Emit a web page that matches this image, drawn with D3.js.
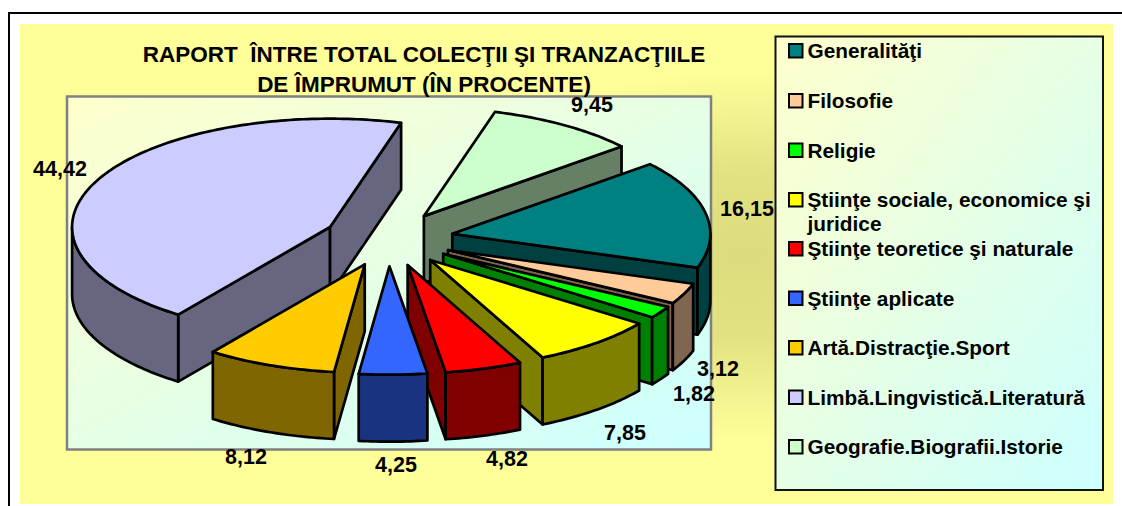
<!DOCTYPE html>
<html>
<head>
<meta charset="utf-8">
<script src="https://cdn.jsdelivr.net/npm/d3@7/dist/d3.min.js"></script>
<style>
html,body{margin:0;padding:0;background:#fff;overflow:hidden}
svg{display:block}
text{font-family:"Liberation Sans",Arial,sans-serif;font-weight:bold;fill:#000}
</style>
</head>
<body>
<svg id="c" width="1122" height="506"></svg>
<script>
const titleLines = ["RAPORT  ÎNTRE TOTAL COLECŢII ŞI TRANZACŢIILE", "DE ÎMPRUMUT (ÎN PROCENTE)"];
const categories = ["Generalităţi","Filosofie","Religie","Ştiinţe sociale, economice şi juridice","Ştiinţe teoretice şi naturale","Ştiinţe aplicate","Artă.Distracţie.Sport","Limbă.Lingvistică.Literatură","Geografie.Biografii.Istorie"];
const legendLines = [["Generalităţi"],["Filosofie"],["Religie"],["Ştiinţe sociale, economice şi","juridice"],["Ştiinţe teoretice şi naturale"],["Ştiinţe aplicate"],["Artă.Distracţie.Sport"],["Limbă.Lingvistică.Literatură"],["Geografie.Biografii.Istorie"]];
const values = [16.15,3.12,1.82,7.85,4.82,4.25,8.12,44.42,9.45];
const valueLabels = ["16,15","3,12","1,82","7,85","4,82","4,25","8,12","44,42","9,45"];
const topColors = ["#008080","#FFCC99","#00FF00","#FFFF00","#FF0000","#3366FF","#FFCC00","#CCCCFF","#CCFFCC"];
const wallColors = ["#004040","#806650","#008000","#808000","#800000","#1A3380","#806600","#666680","#668066"];
// label centre points, relative to the pie centre (layout only)
const labelOffsets = [[358.5,-31],[329.5,129],[305.5,154],[236.5,193],[118.5,219],[7.5,225],[-142.5,217],[-328.5,-71],[203.5,-135]];

const svg = d3.select("#c");
const cx = 388.5, cy = 239, R = 258, tilt = 0.42, depth = 67, explode = 65;
const deg = Math.PI/180;

const defs = svg.append("defs");
const diag = defs.append("linearGradient").attr("id","diag").attr("x1",0).attr("y1",0).attr("x2",1).attr("y2",1);
diag.append("stop").attr("offset",0).attr("stop-color","#FFFFCC");
diag.append("stop").attr("offset",1).attr("stop-color","#CCFFFF");
const glow = defs.append("radialGradient").attr("id","glow").attr("gradientUnits","userSpaceOnUse")
  .attr("cx",0).attr("cy",0).attr("r",1).attr("gradientTransform","translate(745,255) scale(340,185)");
glow.append("stop").attr("offset",0).attr("stop-color","#DCDC7E");
glow.append("stop").attr("offset",0.45).attr("stop-color","#E2E282");
glow.append("stop").attr("offset",1).attr("stop-color","#FFFF99");

// frame + backgrounds
svg.append("path").attr("d","M9 506V13H1122").attr("fill","none").attr("stroke","#000").attr("stroke-width",2);
svg.append("rect").attr("x",20).attr("y",24).attr("width",1093).attr("height",480).attr("fill","url(#glow)");
svg.append("rect").attr("x",67).attr("y",96.5).attr("width",644).attr("height",353).attr("fill","url(#diag)").attr("stroke","#808080").attr("stroke-width",2.5);

// title
svg.append("g").selectAll("text").data(titleLines).join("text")
  .attr("x",424).attr("y",(d,i)=>i?92:62).attr("text-anchor","middle").attr("font-size",22.5).style("white-space","pre").text(d=>d);

// pie
const pie = d3.pie().sort(null).value(d=>d).startAngle(50*deg).endAngle((50+360)*deg);
const arcs = pie(values).map((a,i)=>{
  const mid=(a.startAngle+a.endAngle)/2;
  return {i,a0:a.startAngle,a1:a.endAngle,ox:cx+explode*Math.sin(mid),oy:cy-explode*tilt*Math.cos(mid)};
});
const pt=(s,t,dz=0)=>[s.ox+R*Math.sin(t), s.oy-R*tilt*Math.cos(t)+dz];
const line=d3.line();
const sample=(a,b)=>{const n=Math.max(2,Math.ceil((b-a)/(1*deg)));return d3.range(n+1).map(k=>a+(b-a)*k/n);};
const gPie=svg.append("g").attr("stroke","#000").attr("stroke-width",2.7).attr("stroke-linejoin","round");
arcs.slice().sort((p,q)=>p.oy-q.oy).forEach(s=>{
  const g=gPie.append("g"), wall=wallColors[s.i];
  const radial=t=>{
    const corners=[[s.ox,s.oy],pt(s,t),pt(s,t,depth),[s.ox,s.oy+depth]];
    g.append("path").attr("d",line(corners)+"Z").attr("fill",wall);
  };
  if(Math.cos(s.a0-Math.PI/2)<0) radial(s.a0);
  if(Math.cos(s.a1+Math.PI/2)<0) radial(s.a1);
  const lo=Math.max(s.a0,90*deg), hi=Math.min(s.a1,270*deg);
  if(hi>lo){
    const ts=sample(lo,hi);
    const pts=ts.map(t=>pt(s,t)).concat(ts.slice().reverse().map(t=>pt(s,t,depth)));
    g.append("path").attr("d",line(pts)+"Z").attr("fill",wall);
  }
  const top=[[s.ox,s.oy]].concat(sample(s.a0,s.a1).map(t=>pt(s,t)));
  g.append("path").attr("d",line(top)+"Z").attr("fill",topColors[s.i]);
});

// value labels
svg.append("g").selectAll("text").data(valueLabels).join("text")
  .attr("x",(d,i)=>cx+labelOffsets[i][0]).attr("y",(d,i)=>cy+labelOffsets[i][1]+7.5)
  .attr("text-anchor","middle").attr("font-size",21.5).text(d=>d);

// legend
svg.append("rect").attr("x",775.5).attr("y",36.5).attr("width",327.5).attr("height",453.5).attr("fill","url(#diag)").attr("stroke","#111").attr("stroke-width",2);
const legendRowBase = [58,108,157.5,207,256,305.5,355,404.5,454];
const lg=svg.append("g").selectAll("g").data(categories).join("g");
lg.append("rect").attr("x",789).attr("y",(d,i)=>legendRowBase[i]-14).attr("width",13.5).attr("height",13.5)
  .attr("fill",(d,i)=>topColors[i]).attr("stroke","#000").attr("stroke-width",2);
lg.selectAll("text").data((d,i)=>legendLines[i].map((t,k)=>({t,k,i}))).join("text")
  .attr("x",807.5).attr("y",d=>legendRowBase[d.i]+d.k*24).attr("font-size",20.8).text(d=>d.t);
</script>
</body>
</html>
